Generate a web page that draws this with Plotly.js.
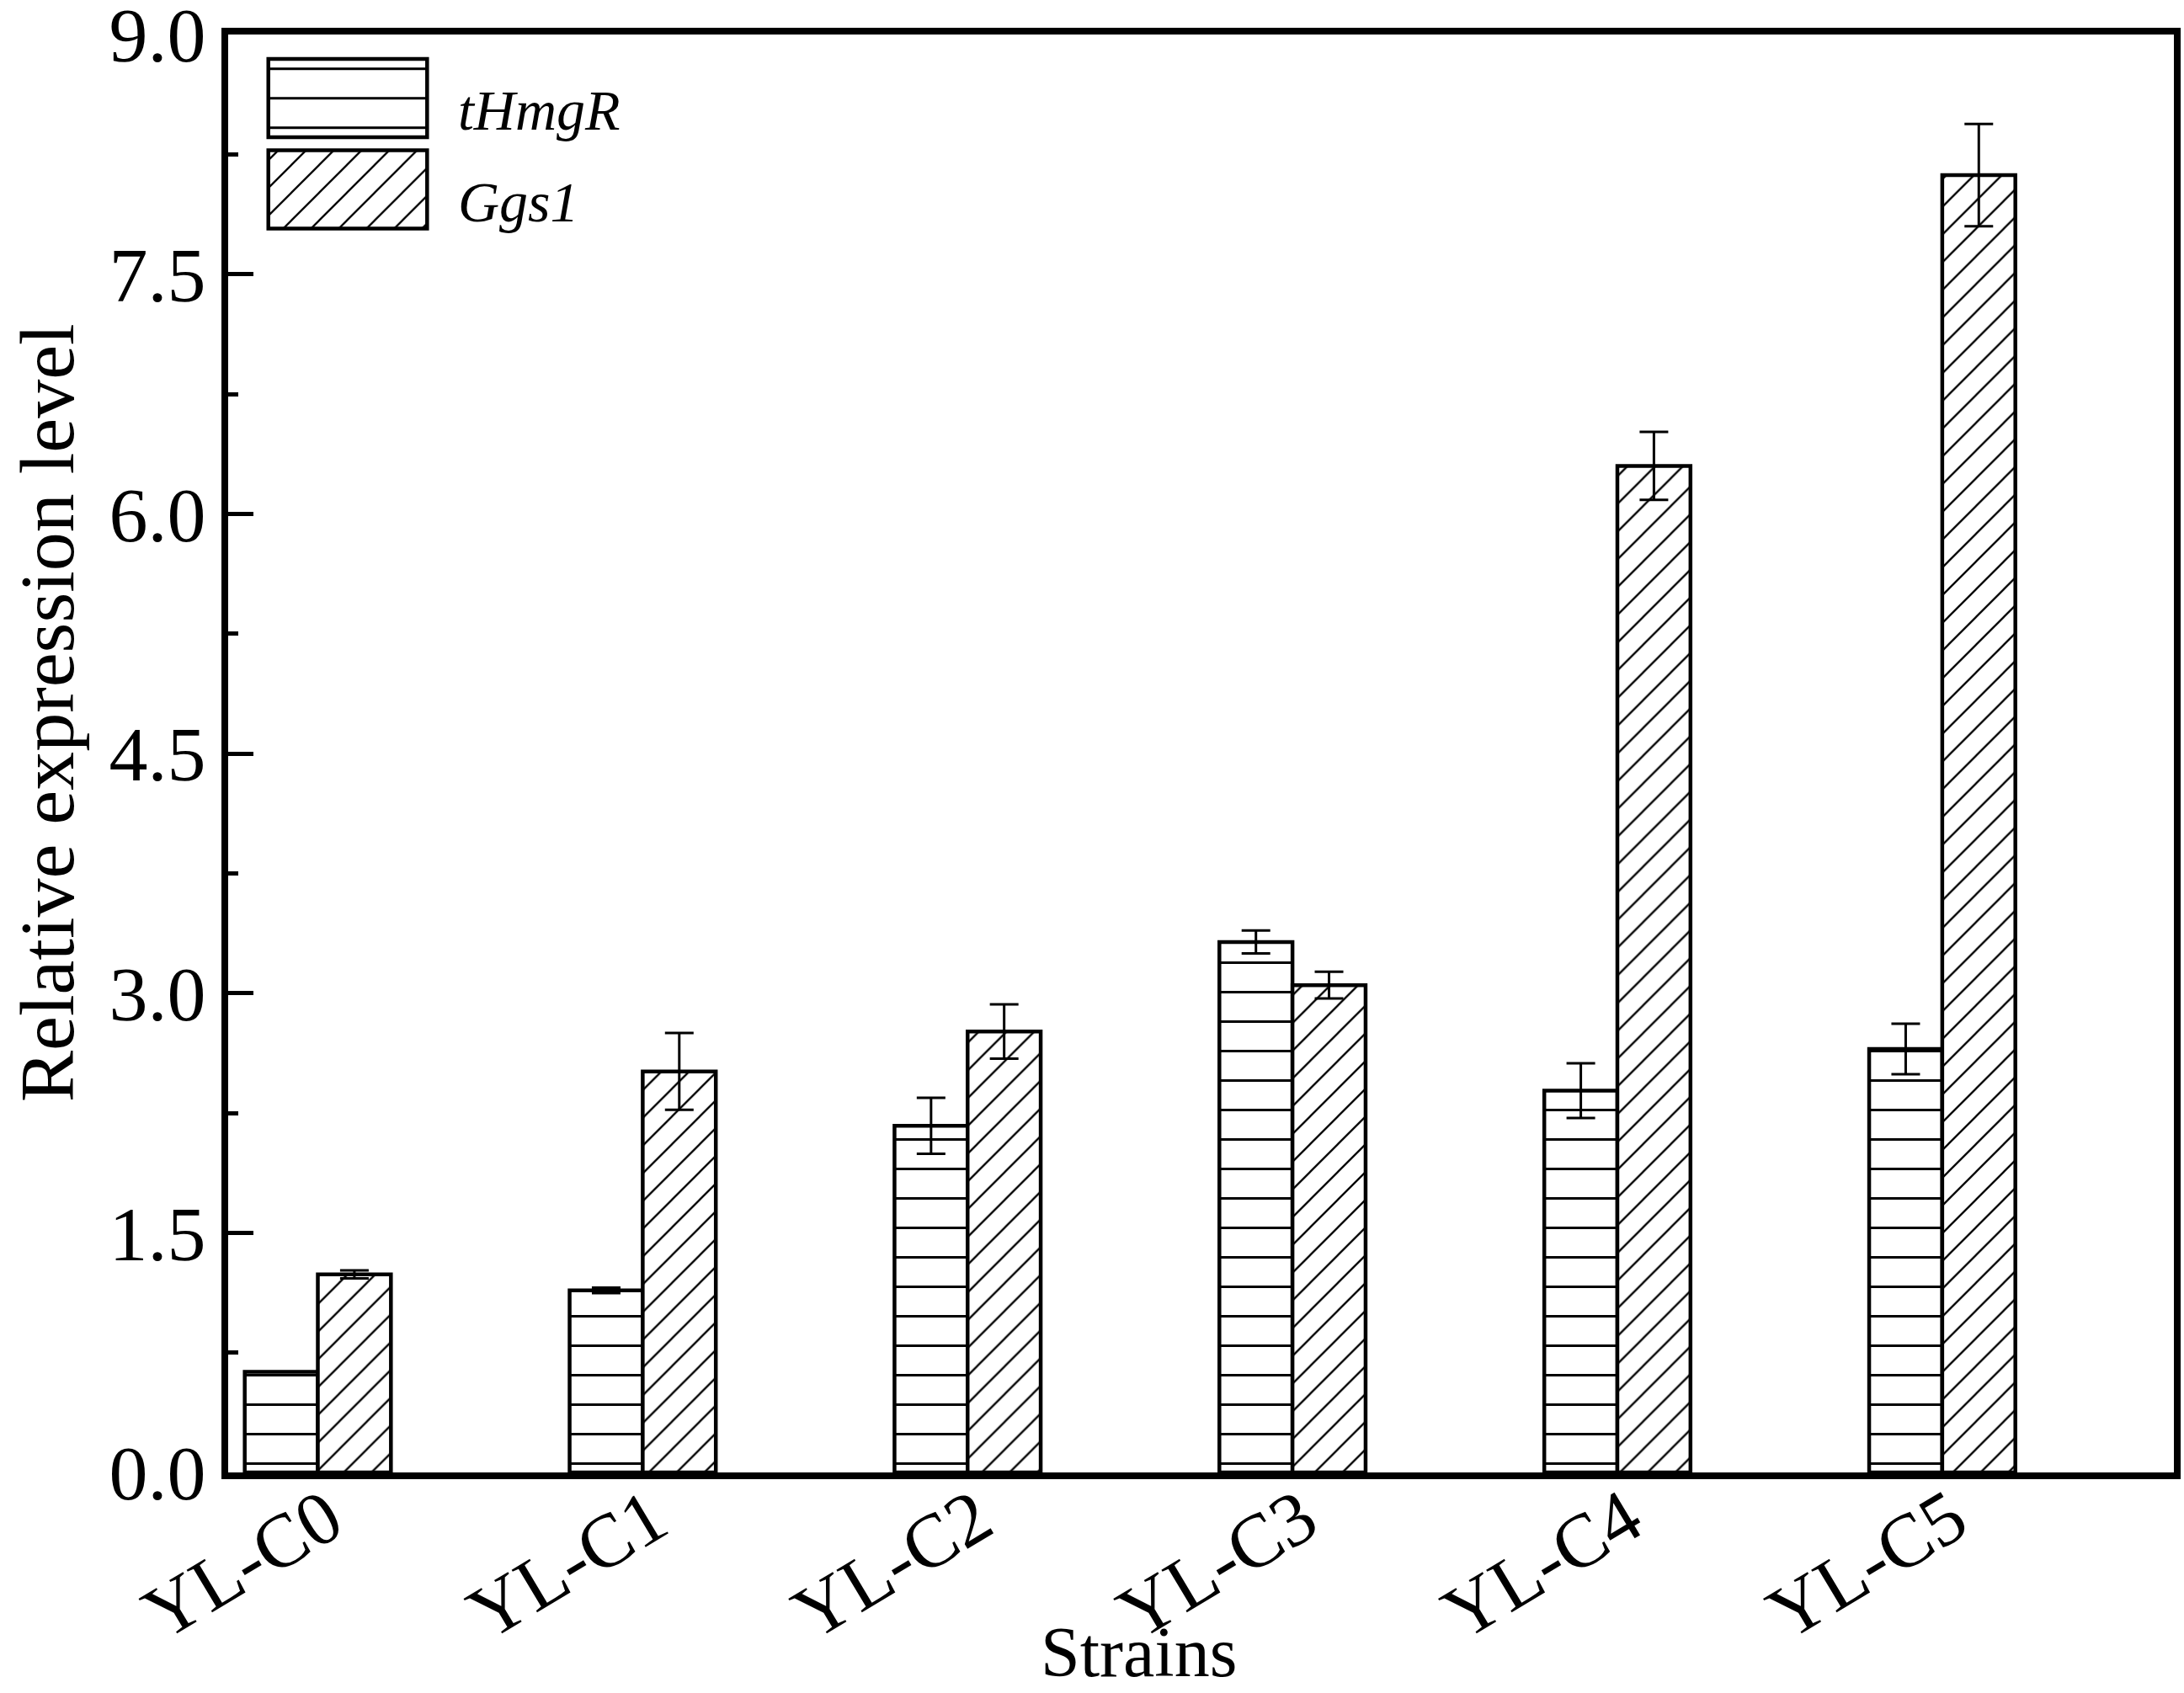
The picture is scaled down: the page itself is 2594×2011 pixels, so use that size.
<!DOCTYPE html>
<html>
<head>
<meta charset="utf-8">
<script src="https://cdn.plot.ly/plotly-3.0.1.min.js"></script>
<style>
  body { margin: 0; background: #fff; }
  #chart { width: 2594px; height: 2011px; }
</style>
</head>
<body>
<div id="chart"></div>
<script>
// values
const strains = ["YL-C0", "YL-C1", "YL-C2", "YL-C3", "YL-C4", "YL-C5"];
const tHmgR = [0.63, 1.14, 2.17, 3.32, 2.39, 2.65];
const tHmgRErr = [0, 0.017, 0.175, 0.072, 0.171, 0.158];
const ggs1 = [1.24, 2.51, 2.76, 3.05, 6.30, 8.12];
const ggs1Err = [0.025, 0.24, 0.17, 0.084, 0.213, 0.32];
const genes = ["tHmgR", "Ggs1"];

const serif = "Liberation Serif, Times New Roman, serif";

function barTrace(name, y, err, shape, size, solidity) {
  return {
    type: "bar",
    name: name,
    x: strains,
    y: y,
    error_y: { type: "data", array: err, visible: true, color: "black", thickness: 3, width: 17 },
    marker: {
      color: "white",
      line: { color: "black", width: 4.5 },
      pattern: { shape: shape, fgcolor: "black", bgcolor: "white", size: size, solidity: solidity },
    },
    hoverinfo: "none",
    showlegend: false,
  };
}

// legend boxes drawn as a small bar inset, one box per gene
const legendTrace = {
  type: "bar",
  orientation: "h",
  y: genes,
  x: genes.map(() => 1),
  xaxis: "x2",
  yaxis: "y2",
  width: 0.856,
  marker: {
    color: "white",
    line: { color: "black", width: 4.5 },
    pattern: { shape: ["-", "/"], fgcolor: "black", bgcolor: "white", size: [35, 23.3], solidity: [0.08, 0.1] },
  },
  hoverinfo: "none",
  showlegend: false,
};

const data = [
  barTrace("tHmgR", tHmgR, tHmgRErr, "-", 35, 0.08),
  barTrace("Ggs1", ggs1, ggs1Err, "/", 23.3, 0.1),
  legendTrace,
];

const layout = {
  width: 2594,
  height: 2011,
  margin: { l: 271, r: 12, t: 41, b: 262 },
  paper_bgcolor: "white",
  plot_bgcolor: "white",
  font: { family: serif, color: "black" },
  barmode: "group",
  bargap: 0.55,
  bargroupgap: 0,
  showlegend: false,
  xaxis: {
    type: "category",
    range: [-0.276, 5.713],
    showline: true,
    linewidth: 8,
    linecolor: "black",
    mirror: true,
    ticks: "",
    tickangle: -31,
    ticklabelstandoff: -40,
    ticklabelshift: 12,
    tickfont: { family: serif, size: 90, color: "black" },
    showgrid: false,
    zeroline: false,
  },
  yaxis: {
    range: [0, 9],
    tick0: 0,
    dtick: 1.5,
    tickformat: ".1f",
    ticks: "inside",
    ticklen: 30,
    tickwidth: 5,
    tickcolor: "black",
    minor: { dtick: 0.75, ticks: "inside", ticklen: 12, tickwidth: 5, tickcolor: "black" },
    ticklabeloverflow: "allow",
    tickfont: { family: serif, size: 92, color: "black" },
    showline: true,
    linewidth: 8,
    linecolor: "black",
    mirror: true,
    showgrid: false,
    zeroline: false,
  },
  xaxis2: {
    domain: [0.0182, 0.1047],
    range: [-0.03, 1.03],
    anchor: "y2",
    visible: false,
  },
  yaxis2: {
    domain: [0.8617, 0.9864],
    type: "category",
    categoryarray: ["Ggs1", "tHmgR"],
    range: [-0.48, 1.48],
    anchor: "x2",
    side: "right",
    showline: false,
    showgrid: false,
    zeroline: false,
    ticks: "",
    ticklabelstandoff: 30,
    ticklabelshift: 14,
    tickfont: { family: serif, size: 68, style: "italic", color: "black" },
  },
  annotations: [
    {
      text: "Relative expression level",
      xref: "paper", yref: "paper",
      x: -0.093, y: 0.528,
      xanchor: "center", yanchor: "middle",
      textangle: -90,
      showarrow: false,
      font: { family: serif, size: 92, color: "black" },
    },
    {
      text: "Strains",
      xref: "paper", yref: "paper",
      x: 0.468, y: -0.125,
      xanchor: "center", yanchor: "middle",
      showarrow: false,
      font: { family: serif, size: 84, color: "black" },
    },
  ],
};

Plotly.newPlot("chart", data, layout, { staticPlot: true, displayModeBar: false });
</script>
</body>
</html>
